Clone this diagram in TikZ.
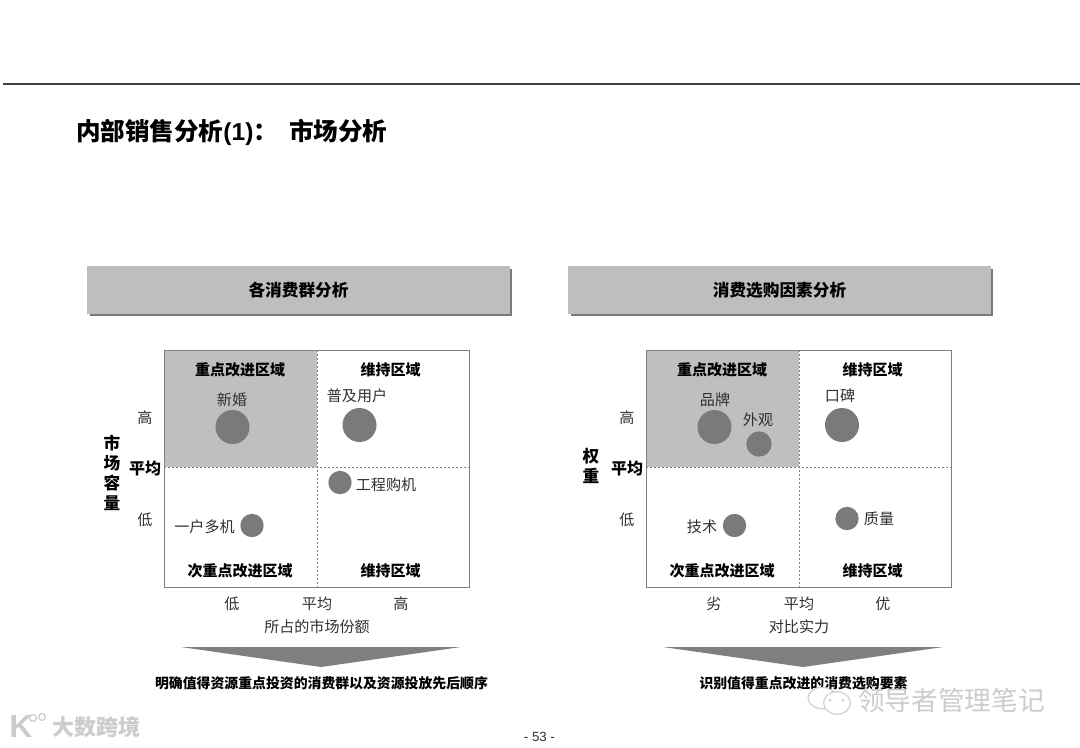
\documentclass[tikz,border=0pt]{standalone}
\usepackage{fontspec}
\setmainfont{Noto Sans CJK SC}
\newfontfamily\latinsans{Liberation Sans}
\definecolor{hdrgray}{HTML}{BEBEBE}
\definecolor{quadgray}{HTML}{BFBFBF}
\definecolor{bubblegray}{HTML}{7A7A7A}
\definecolor{framegray}{HTML}{808080}
\definecolor{shadowgray}{HTML}{7A7A7A}
\definecolor{arrowgray}{HTML}{7F7F7F}
\definecolor{inkgray}{HTML}{303030}
\definecolor{markgray}{HTML}{CCCCCC}
\tikzset{
  x=0.75pt,y=-0.75pt,
  txt/.style={inner sep=0pt,text=inkgray,font=\fontsize{11.3}{13}\selectfont},
  boldtxt/.style={inner sep=0pt,text=black,font=\fontsize{11.25}{13}\selectfont\bfseries},
  avgtxt/.style={inner sep=0pt,text=black,font=\fontsize{12}{14}\selectfont\bfseries},
  hdr/.style={inner sep=0pt,text=black,font=\fontsize{12.5}{14}\selectfont\bfseries},
  ytitle/.style={inner sep=0pt,align=center,text=black,font=\fontsize{12.5}{15}\selectfont\bfseries},
  bottomtxt/.style={inner sep=0pt,text=black,font=\fontsize{10.4}{12}\selectfont\bfseries},
  bubble/.style={circle,fill=bubblegray,draw=none,inner sep=0pt},
  quadframe/.style={draw=framegray,line width=0.75pt},
  quaddash/.style={draw=framegray,line width=0.6pt,dash pattern=on 1.6pt off 1.4pt},
  wmark/.style={inner sep=0pt,text=markgray},
}
% #1 prefix, #2 grid x offset, #3 header x offset, #4 low, #5 high, #6 x-axis title, #7 header, #8 bottom text
\newcommand{\quadpanel}[8]{%
  \begin{scope}[xshift=#3*0.75pt]
    \fill[shadowgray] (90,269) rectangle (512,316);
    \node[fill=hdrgray,minimum width=317.25pt,minimum height=36pt,inner sep=0pt,anchor=north west] (#1hdr) at (87,266) {};
    \node[hdr] (#1hdrtxt) at (298.5,290) {#7};
  \end{scope}
  \begin{scope}[xshift=#2*0.75pt]
    \fill[quadgray] (164,350) rectangle (317,467);
    \coordinate (#1t) at (317,350); \coordinate (#1b) at (317,587);
    \coordinate (#1l) at (164,467); \coordinate (#1r) at (469,467);
    \draw[quaddash] (#1t) -- (#1b);
    \draw[quaddash] (#1l) -- (#1r);
    \draw[quadframe] (164,350) rectangle (469,587);
    \node[boldtxt] (#1q1) at (240,370) {重点改进区域};
    \node[boldtxt] (#1q2) at (390.5,370) {维持区域};
    \node[boldtxt] (#1q3) at (240,571) {次重点改进区域};
    \node[boldtxt] (#1q4) at (390.5,571) {维持区域};
    \node[txt] (#1yhi) at (145,418) {高};
    \node[txt] (#1ylo) at (145,520) {低};
    \node[avgtxt] (#1yavg) at (145,468) {平均};
    \node[txt] (#1xlo) at (232,604) {#4};
    \node[txt] (#1xavg) at (317,604) {平均};
    \node[txt] (#1xhi) at (401,604) {#5};
    \node[txt] (#1xtitle) at (317,627) {#6};
    \fill[arrowgray] (181,647) -- (461,647) -- (321,667) -- cycle;
    \node[bottomtxt] (#1bottom) at (321.5,683) {#8};
  \end{scope}%
}
\begin{document}
\begin{tikzpicture}
\useasboundingbox (0,0) rectangle (1080,747);
\fill[white] (0,0) rectangle (1080,747);
\coordinate (ruleL) at (3,84); \coordinate (ruleR) at (1080,84);
\draw[draw=black!75,line width=0.9pt] (ruleL) -- (ruleR);
\node[anchor=west,inner sep=0pt,font=\fontsize{18.4}{20}\selectfont\bfseries] (title) at (76,132) {内部销售分析{\latinsans\bfseries (1)}：\hspace{0.45em}市场分析};

\quadpanel{a}{0}{0}{低}{高}{所占的市场份额}{各消费群分析}{明确值得资源重点投资的消费群以及资源投放先后顺序}
\quadpanel{b}{482}{481}{劣}{优}{对比实力}{消费选购因素分析}{识别值得重点改进的消费选购要素}

% stacked axis titles
\node[ytitle] (aytext) at (112,473) {市\\场\\容\\量};
\node[ytitle] (bytext) at (591,466) {权\\重};

% left bubbles
\node[bubble,minimum size=25.5pt] (xinhun) at (232.5,427) {};
\node[txt] (xinhunT) at (232,400) {新婚};
\node[bubble,minimum size=25.5pt] (puji) at (359.5,425) {};
\node[txt] (pujiT) at (357,396) {普及用户};
\node[bubble,minimum size=17.5pt] (gongcheng) at (340,482.5) {};
\node[txt] (gongchengT) at (386,485) {工程购机};
\node[bubble,minimum size=17.5pt] (yihu) at (252,525.5) {};
\node[txt] (yihuT) at (204.5,527) {一户多机};

% right bubbles
\node[bubble,minimum size=25.5pt] (pinpai) at (714.5,427) {};
\node[txt] (pinpaiT) at (715,400) {品牌};
\node[bubble,minimum size=19pt] (waiguan) at (759,444) {};
\node[txt] (waiguanT) at (758,420) {外观};
\node[bubble,minimum size=25.5pt] (koubei) at (842,425) {};
\node[txt] (koubeiT) at (840,396) {口碑};
\node[bubble,minimum size=17.5pt] (jishu) at (734.5,525.5) {};
\node[txt] (jishuT) at (702,527) {技术};
\node[bubble,minimum size=17.5pt] (zhiliang) at (847,518.5) {};
\node[txt] (zhiliangT) at (879,519) {质量};

% page number
\node[inner sep=0pt,font=\latinsans\fontsize{10}{12}\selectfont,text=inkgray] (page) at (539.5,737) {- 53 -};

% watermark lower right
\begin{scope}[draw=markgray,line width=0.8pt]
  \draw[fill=white] (822,698) ellipse [x radius=10.5pt,y radius=8pt];
  \draw[fill=white] (837,703) ellipse [x radius=10pt,y radius=8.5pt];
  \fill[markgray] (830,700) circle (1.5) (843,700) circle (1.5);
\end{scope}
\node[wmark,anchor=west,font=\fontsize{20}{22}\selectfont] (wm1) at (858,700) {领导者管理笔记};

% watermark lower left
\node[wmark,anchor=west,font=\fontsize{16.5}{18}\selectfont\bfseries] (wm2) at (52,727) {大数跨境};
\node[wmark,anchor=west,font=\latinsans\fontsize{24}{24}\selectfont\bfseries] (wm3) at (9,726) {K};
\draw[markgray,line width=0.9pt] (33,718) circle (3.4) (42,717) circle (3.4);
\end{tikzpicture}
\end{document}
